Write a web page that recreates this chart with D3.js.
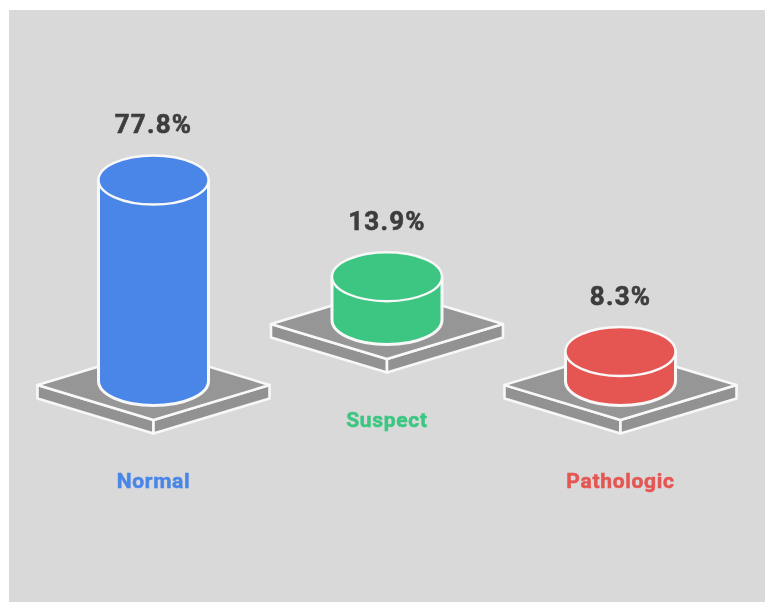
<!DOCTYPE html>
<html>
<head>
<meta charset="utf-8">
<script src="https://cdn.jsdelivr.net/npm/d3@7"></script>
<style>
  html, body { margin: 0; padding: 0; background: #ffffff; }
  svg { display: block; }
  text { font-family: Roboto, "Liberation Sans", sans-serif; text-anchor: middle; dominant-baseline: central; }
</style>
</head>
<body>
<svg id="chart" width="774" height="612"></svg>
<script>
// CTG classes and their share of cases
const categories = ["Normal", "Suspect", "Pathologic"];
const shares = [77.8, 13.9, 8.3];
const rows = ["front", "back", "front"];
const classColors = ["#4a86e8", "#3cc682", "#e55653"];

const svg = d3.select("#chart");

// Slight softening shared by every shape and label
svg.append("defs").append("filter")
  .attr("id", "soft")
  .attr("filterUnits", "userSpaceOnUse")
  .attr("x", 0).attr("y", 0).attr("width", 774).attr("height", 612)
  .append("feGaussianBlur").attr("stdDeviation", 0.75);

const root = svg.append("g").attr("filter", "url(#soft)");

const x = d3.scalePoint().domain(categories).range([153.5, 620.5]);
const rowY = d3.scaleOrdinal().domain(["front", "back"]).range([385, 324]);
// Cylinder height keeps a small floor so thin classes still read as solids
const height = d3.scaleLinear().domain([0, 77.8]).range([9, 201]);

const plinthW = 116, plinthH = 35, plinthT = 13.5;
const rx = 55, ry = 24.5;
const edge = "#f8f8f8";

root.append("rect")
  .attr("x", 9).attr("y", 10).attr("width", 756).attr("height", 592)
  .attr("fill", "#d9d9d9");

const line = d3.line();

const groups = root.selectAll("g.item")
  .data(categories.map((name, i) => ({
    name, share: shares[i], row: rows[i], color: classColors[i]
  })))
  .join("g")
  .attr("class", "item")
  .attr("transform", d => `translate(${x(d.name)},${rowY(d.row)})`);

// Plinth: left side, right side, then the top face
groups.append("path")
  .attr("d", line([[-plinthW, 0], [0, plinthH], [0, plinthH + plinthT], [-plinthW, plinthT]]) + "Z")
  .attr("fill", "#929292").attr("stroke", edge).attr("stroke-width", 2.6).attr("stroke-linejoin", "round");
groups.append("path")
  .attr("d", line([[plinthW, 0], [0, plinthH], [0, plinthH + plinthT], [plinthW, plinthT]]) + "Z")
  .attr("fill", "#929292").attr("stroke", edge).attr("stroke-width", 2.6).attr("stroke-linejoin", "round");
groups.append("path")
  .attr("d", line([[-plinthW, 0], [0, -plinthH], [plinthW, 0], [0, plinthH]]) + "Z")
  .attr("fill", "#969696").attr("stroke", edge).attr("stroke-width", 2.4).attr("stroke-linejoin", "round");

// Cylinder wall, closed by an elliptical arc along the bottom
const baseY = -4;
groups.append("path")
  .attr("d", d => {
    const top = baseY - height(d.share);
    return `M${-rx},${top}L${-rx},${baseY}A${rx},${ry} 0 0 0 ${rx},${baseY}L${rx},${top}Z`;
  })
  .attr("fill", d => d.color).attr("stroke", edge).attr("stroke-width", 3);

// Cylinder lid
groups.append("ellipse")
  .attr("cx", 0).attr("cy", d => baseY - height(d.share))
  .attr("rx", rx).attr("ry", ry)
  .attr("fill", d => d.color).attr("stroke", edge).attr("stroke-width", 2.4);

// Value above each lid
groups.append("text")
  .attr("y", d => baseY - height(d.share) - ry - 31.5)
  .attr("font-size", 26).attr("font-weight", 700).attr("letter-spacing", 1.2)
  .attr("fill", "#3c3c3c").attr("stroke", "#3c3c3c").attr("stroke-width", 0.6)
  .text(d => d3.format(".1f")(d.share) + "%");

// Class name below each plinth
groups.append("text")
  .attr("y", plinthH + plinthT + 47)
  .attr("font-size", 21).attr("font-weight", 700).attr("letter-spacing", 0.7)
  .attr("fill", d => d.color).attr("stroke", d => d.color).attr("stroke-width", 0.5)
  .text(d => d.name);
</script>
</body>
</html>
